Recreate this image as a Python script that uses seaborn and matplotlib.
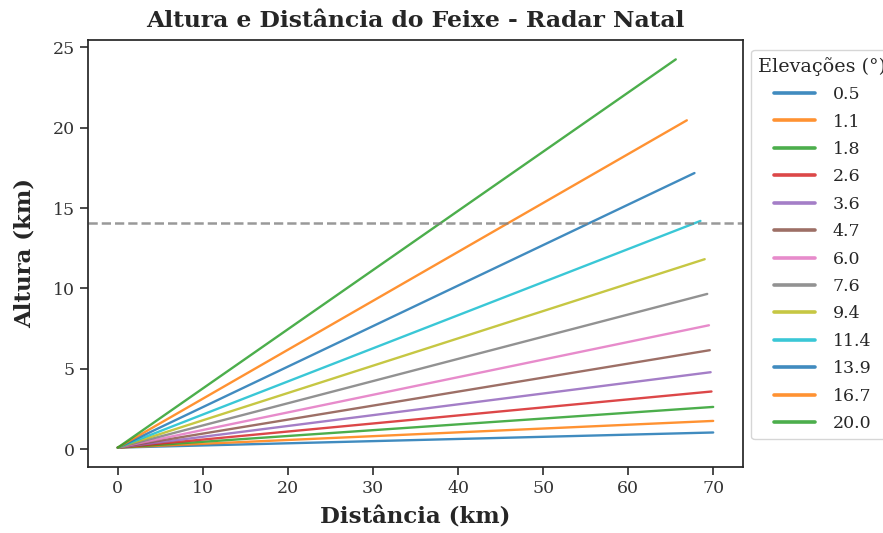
"""Altura e distância do feixe do radar de Natal por elevação."""

import pandas as pd
import seaborn as sns
from matplotlib import pyplot as plt

plt.switch_backend("Agg")

# elevações do VCP (graus)
ELEVATIONS = ["0.5", "1.1", "1.8", "2.6", "3.6", "4.7", "6.0",
              "7.6", "9.4", "11.4", "13.9", "16.7", "20.0"]
# ponto inicial comum (altura da antena)
START_DIST = 0.0
START_HEIGHT = 0.1
# ponto final de cada feixe
END_DIST = [70.0, 70.0, 70.0, 69.8, 69.7, 69.6, 69.5,
            69.3, 69.0, 68.5, 67.8, 66.9, 65.6]
END_HEIGHT = [1.04, 1.76, 2.63, 3.59, 4.79, 6.16, 7.71,
              9.66, 11.82, 14.2, 17.18, 20.46, 24.25]
LIMIT_HEIGHT = 14.07


def build_frame() -> pd.DataFrame:
    rows = []
    for elev, dist, height in zip(ELEVATIONS, END_DIST, END_HEIGHT):
        rows.append({"Elevação": elev, "Distância": START_DIST, "Altura": START_HEIGHT})
        rows.append({"Elevação": elev, "Distância": dist, "Altura": height})
    return pd.DataFrame(rows)


def main() -> None:
    sns.set_theme(style="ticks")
    plt.rcParams["font.family"] = ["DejaVu Serif"]

    df = build_frame()
    fig = plt.figure(figsize=(8.83, 5.33), dpi=100)
    ax = fig.add_axes([0.0997, 0.1238, 0.7417, 0.8012])

    sns.lineplot(
        data=df, x="Distância", y="Altura", hue="Elevação",
        hue_order=ELEVATIONS, palette=sns.color_palette("tab10", len(ELEVATIONS)),
        estimator=None, sort=False, linewidth=1.7, alpha=0.85, ax=ax,
    )
    ax.axhline(LIMIT_HEIGHT, color="gray", linestyle="--", linewidth=1.8, alpha=0.8)

    for side in ["top", "right"]:
        ax.spines[side].set_visible(True)
    ax.set_xticks(range(0, 71, 10))
    ax.set_yticks(range(0, 26, 5))
    ax.tick_params(labelsize=12.5, colors="#333333")

    ax.set_title("Altura e Distância do Feixe - Radar Natal", fontsize=16.9,
                 fontweight="bold", pad=9)
    ax.set_xlabel("Distância (km)", fontsize=16.5, fontweight="bold", labelpad=7)
    ax.set_ylabel("Altura (km)", fontsize=16.5, fontweight="bold", labelpad=12)

    leg = ax.legend(
        title="Elevações (°)", loc="upper left", bbox_to_anchor=(1.013, 0.977),
        borderaxespad=0, fontsize=12.5, title_fontsize=13.8, handlelength=2.4,
        handletextpad=1.0, labelspacing=0.6,
    )
    for line in leg.get_lines():
        line.set_linewidth(2.6)
        line.set_alpha(0.85)

    fig.savefig("out.png", dpi=100)
    plt.close(fig)


if __name__ == "__main__":
    main()
